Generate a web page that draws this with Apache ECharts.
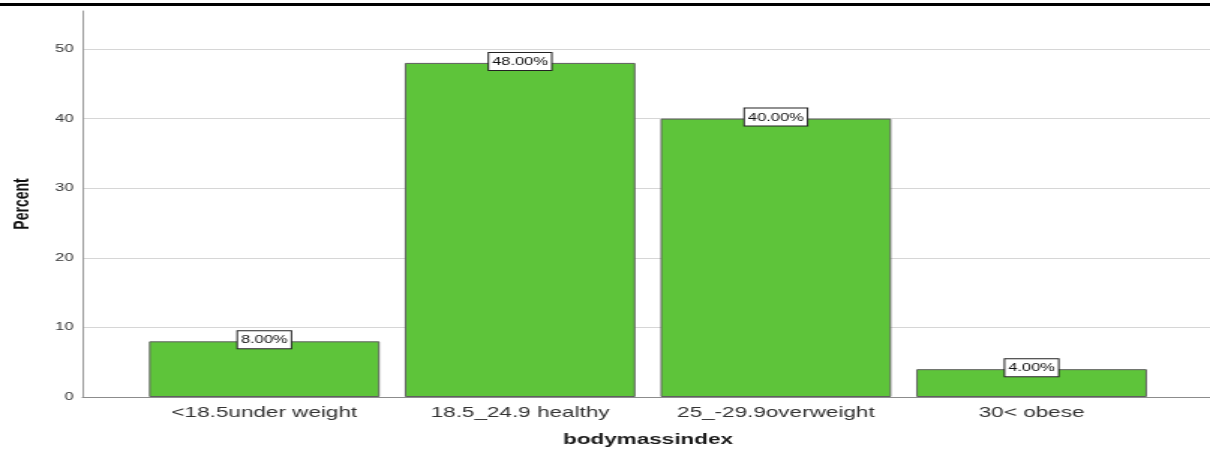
<!DOCTYPE html>
<html>
<head>
<meta charset="utf-8">
<script src="https://cdn.jsdelivr.net/npm/echarts@6/dist/echarts.min.js"></script>
<style>
  html, body { margin: 0; padding: 0; background: #fff; overflow: hidden; }
  /* chart is laid out narrow and widened horizontally */
  #chart { width: 807px; height: 452px; transform: scaleX(1.4994); transform-origin: 0 0; }
</style>
</head>
<body>
<div id="chart"></div>
<script>
const categories = ['<18.5under weight', '18.5_24.9 healthy', '25_-29.9overweight', '30< obese'];
const percentValues = [8, 48, 40, 4];
const yTicks = [0, 10, 20, 30, 40, 50];

const FONT = '"Liberation Sans", Arial, Helvetica, sans-serif';
const Y_MAX = 55.46;

const chart = echarts.init(document.getElementById('chart'), null, { renderer: 'canvas' });

chart.setOption({
  animation: false,
  backgroundColor: '#fff',
  graphic: [{
    type: 'rect',
    left: 0, top: 3,
    shape: { x: 0, y: 0, width: 807, height: 3 },
    style: { fill: '#000' },
    z: 100
  }],
  grid: [
    { left: 52.7, right: 0, top: 11, bottom: 55 },
    { left: 91, right: 33.7, top: 11, bottom: 55 }
  ],
  xAxis: [
    {
      gridIndex: 0, type: 'value', min: 0, max: 1,
      axisLine: { show: true, lineStyle: { color: '#8c8c8c', width: 1 } },
      axisTick: { show: false }, axisLabel: { show: false }, splitLine: { show: false }
    },
    {
      gridIndex: 1, type: 'category', data: categories,
      name: 'bodymassindex', nameLocation: 'middle', nameGap: 35,
      nameTextStyle: { fontFamily: FONT, fontSize: 15, fontWeight: 'bold', color: '#1a1a1a' },
      axisLine: { show: false }, axisTick: { show: false },
      axisLabel: { interval: 0, hideOverlap: false, fontFamily: FONT, fontSize: 15, color: '#333', margin: 8 }
    }
  ],
  yAxis: [
    {
      gridIndex: 0, type: 'value', min: yTicks[0], max: Y_MAX, interval: 10,
      name: 'Percent', nameLocation: 'middle', nameGap: 33, nameRotate: 90,
      nameTextStyle: { fontFamily: FONT, fontSize: 14, fontWeight: 'bold', color: '#111' },
      axisLine: { show: true, lineStyle: { color: '#999', width: 1 } },
      axisTick: { show: false },
      axisLabel: {
        fontFamily: FONT, fontSize: 11, color: '#333', margin: 6,
        showMaxLabel: false,
        formatter: v => (yTicks.indexOf(v) >= 0 ? String(v) : '')
      },
      splitLine: { show: true, showMaxLine: false, lineStyle: { color: '#d6d6d6', width: 1 } }
    },
    {
      gridIndex: 1, type: 'value', min: yTicks[0], max: Y_MAX,
      show: false, splitLine: { show: false }
    }
  ],
  series: [{
    type: 'bar',
    xAxisIndex: 1, yAxisIndex: 1,
    data: percentValues,
    barWidth: '90.2%',
    itemStyle: { color: '#5ec43a', borderColor: '#5f5f5f', borderWidth: 1 },
    label: {
      show: true, position: 'top', distance: -7,
      formatter: p => p.value.toFixed(2) + '%',
      fontFamily: FONT, fontSize: 11, color: '#111',
      backgroundColor: '#fff', borderColor: '#222', borderWidth: 1,
      padding: [3, 2, 2, 2], lineHeight: 12
    }
  }]
});
</script>
</body>
</html>
